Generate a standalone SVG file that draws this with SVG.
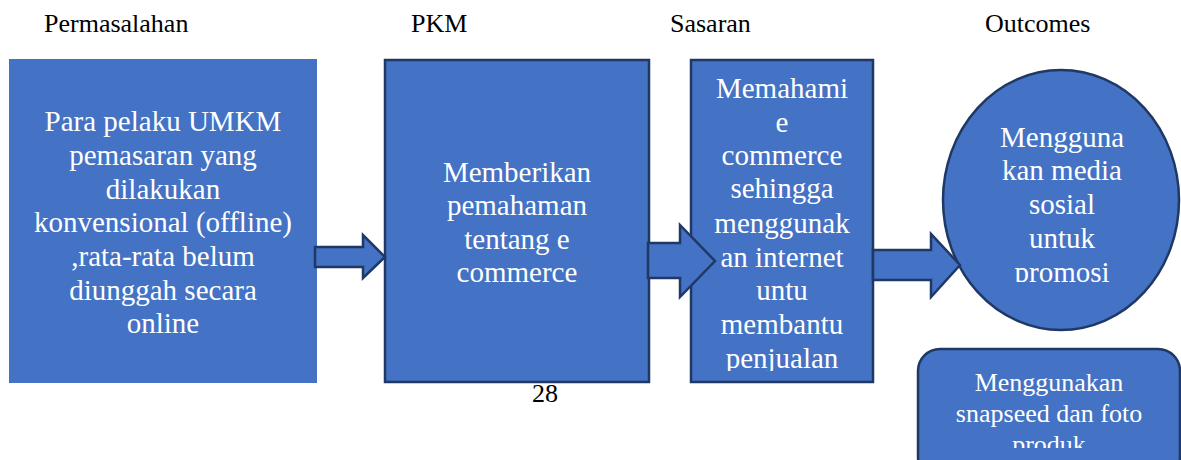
<svg xmlns="http://www.w3.org/2000/svg" width="1181" height="460" viewBox="0 0 1181 460">
<style>
.hdr{font-family:"Liberation Serif","Times New Roman",serif;font-size:26px;fill:#000}
.t{font-family:"Liberation Serif","Times New Roman",serif;font-size:29px;fill:#fff;text-anchor:middle}
.t2{font-family:"Liberation Serif","Times New Roman",serif;font-size:26px;fill:#fff;text-anchor:middle}
.box{fill:#4472C4;stroke:#1F3864;stroke-width:2.5}
.arr{fill:#4472C4;stroke:#1F3864;stroke-width:2.5;stroke-linejoin:miter}
</style>
<defs>
<clipPath id="c3"><rect x="692" y="61" width="180" height="310"/></clipPath>
<clipPath id="c4"><rect x="944" y="71" width="236" height="211"/></clipPath>
<clipPath id="c5"><rect x="919" y="350" width="262" height="98"/></clipPath>
</defs>
<rect width="1181" height="460" fill="#fff"/>
<g id="headers">
<text class="hdr" x="44" y="32">Permasalahan</text>
<text class="hdr" x="411" y="32">PKM</text>
<text class="hdr" x="670" y="32">Sasaran</text>
<text class="hdr" x="985" y="32">Outcomes</text>
</g>
<g id="permasalahan">
<rect x="9" y="59" width="308" height="324" fill="#4472C4"/>
<text class="t" x="163" y="131">Para pelaku UMKM</text>
<text class="t" x="163" y="165">pemasaran yang</text>
<text class="t" x="163" y="199">dilakukan</text>
<text class="t" x="163" y="232">konvensional (offline)</text>
<text class="t" x="163" y="266">,rata-rata belum</text>
<text class="t" x="163" y="300">diunggah secara</text>
<text class="t" x="163" y="333">online</text>
</g>
<g id="pkm">
<rect class="box" x="385" y="60" width="264" height="322"/>
<text class="t" x="517" y="182">Memberikan</text>
<text class="t" x="517" y="215">pemahaman</text>
<text class="t" x="517" y="249">tentang e</text>
<text class="t" x="517" y="282">commerce</text>
</g>
<g id="sasaran">
<rect class="box" x="691" y="60" width="182" height="322"/>
<g clip-path="url(#c3)">
<text class="t" x="782" y="98">Memahami</text>
<text class="t" x="782" y="132">e</text>
<text class="t" x="782" y="165">commerce</text>
<text class="t" x="782" y="198">sehingga</text>
<text class="t" x="782" y="233">menggunak</text>
<text class="t" x="782" y="267">an internet</text>
<text class="t" x="782" y="300">untu</text>
<text class="t" x="782" y="334">membantu</text>
<text class="t" x="782" y="368">penjualan</text>
</g>
</g>
<g id="outcome1">
<ellipse class="box" cx="1061" cy="200" rx="118" ry="130"/>
<g clip-path="url(#c4)">
<text class="t" x="1062" y="147">Mengguna</text>
<text class="t" x="1062" y="180">kan media</text>
<text class="t" x="1062" y="214">sosial</text>
<text class="t" x="1062" y="248">untuk</text>
<text class="t" x="1062" y="282">promosi</text>
</g>
</g>
<g id="outcome2">
<rect class="box" x="918" y="349" width="262" height="130" rx="22" ry="22"/>
<g clip-path="url(#c5)">
<text class="t2" x="1049" y="391">Menggunakan</text>
<text class="t2" x="1049" y="422">snapseed dan foto</text>
<text class="t2" x="1049" y="453">produk</text>
</g>
</g>
<g id="connectors">
<polygon class="arr" points="315,247 363,247 363,235 385,257 363,278 363,267 315,267"/>
<polygon class="arr" points="648,243 680,243 680,225 715,261 680,297 680,278 648,278"/>
<polygon class="arr" points="873,250 931,250 931,234 960,265 931,297 931,280 873,280"/>
</g>
<g id="pagenum">
<text class="hdr" x="532" y="402">28</text>
</g>
</svg>
